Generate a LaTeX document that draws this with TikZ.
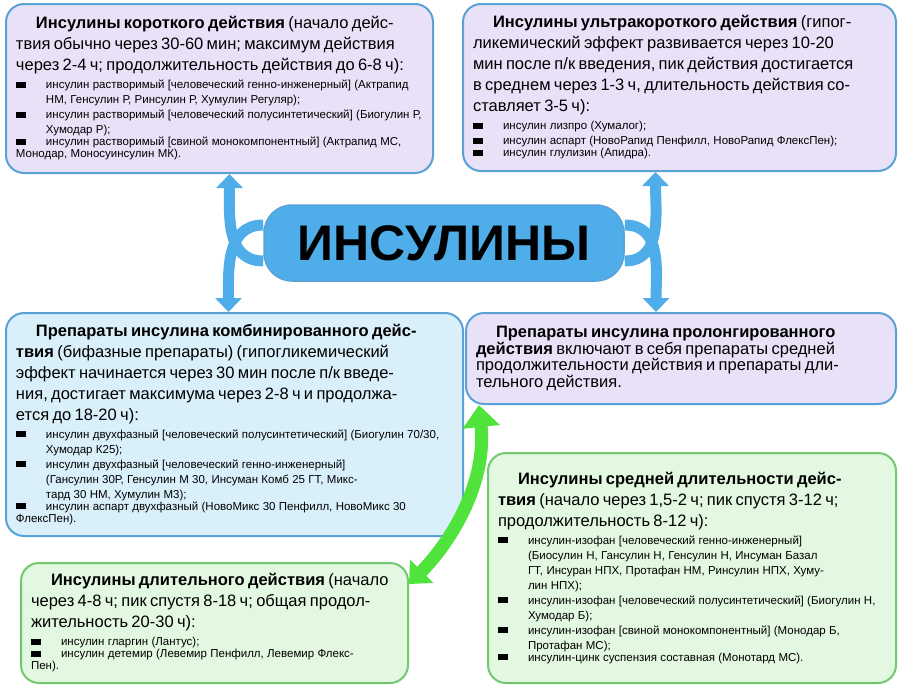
\documentclass[tikz,border=0pt]{standalone}
\usepackage{fontspec}
\setmainfont{Liberation Sans}
\usetikzlibrary{arrows.meta,calc}
\definecolor{bordblue}{HTML}{5AA2D6}
\definecolor{lavfill}{HTML}{E9E1F8}
\definecolor{bluefill}{HTML}{D9F0FB}
\definecolor{greenfill}{HTML}{E2F8E0}
\definecolor{bordgreen}{HTML}{72C86E}
\definecolor{insblue}{HTML}{4FAEE9}
\definecolor{arrgreen}{HTML}{4FE33C}
\newcommand\bul{\raisebox{1pt}{\rule{10pt}{6pt}}}
\newcommand\itm[1]{\par\hangindent=30pt\hangafter=1\noindent\makebox[30pt][l]{\bul}#1}
\newcommand\bigtxt{\fontsize{16.5}{21}\selectfont}
\newcommand\smltxt{\par\vspace{3pt}\fontsize{11.5}{15}\selectfont}
\tikzset{
	groupbox/.style={
		draw=bordblue,
		line width=2pt,
		rounded corners=18pt,
		anchor=north west,
		inner sep=10pt,
		fill=lavfill
	},
	greenbox/.style={
		groupbox,
		draw=bordgreen,
		fill=greenfill
	},
	bluelink/.style={
		draw=insblue,
		line width=11pt,
		-{Triangle[length=14pt,width=26pt]}
	},
	greenlink/.style={
		draw=arrgreen,
		line width=13pt,
		{Triangle[length=22pt,width=36pt]}-{Triangle[length=18pt,width=32pt]}
	}
}
\begin{document}
\begin{tikzpicture}[x=1pt,y=-1pt]
\useasboundingbox (0,0) rectangle (900,688);
% boxes
\node [groupbox, text width=407pt, minimum height=169pt] (short) at (5,3) {\bigtxt
\hspace*{20pt}\textbf{Инсулины короткого действия} (начало дейс-\linebreak
твия обычно через 30-60 мин; максимум действия\linebreak
через 2-4 ч; продолжительность действия до 6-8 ч):
\smltxt
\itm{инсулин растворимый [человеческий генно-инженерный] (Актрапид НМ, Генсулин Р, Ринсулин Р, Хумулин Регуляр);}
\itm{инсулин растворимый [человеческий полусинтетический] (Биогулин Р, Хумодар Р);}
\itm{инсулин растворимый [свиной монокомпонентный] (Актрапид МС, Монодар, Моносуинсулин МК).}};
\node [groupbox, text width=413pt, minimum height=167pt] (ultra) at (462,3) {\bigtxt
\hspace*{20pt}\textbf{Инсулины ультракороткого действия} (гипог-\linebreak
ликемический эффект развивается через 10-20\linebreak
мин после п/к введения, пик действия достигается\linebreak
в среднем через 1-3 ч, длительность действия со-\linebreak
ставляет 3-5 ч):
\smltxt
\itm{инсулин лизпро (Хумалог);}
\itm{инсулин аспарт (НовоРапид Пенфилл, НовоРапид ФлексПен);}
\itm{инсулин глулизин (Апидра).}};
\node [groupbox, fill=bluefill, text width=437pt, minimum height=223pt] (comb) at (5,312) {\bigtxt
\hspace*{20pt}\textbf{Препараты инсулина комбинированного дейс-}\linebreak
\textbf{твия} (бифазные препараты) (гипогликемический\linebreak
эффект начинается через 30 мин после п/к введе-\linebreak
ния, достигает максимума через 2-8 ч и продолжа-\linebreak
ется до 18-20 ч):
\smltxt
\itm{инсулин двухфазный [человеческий полусинтетический] (Биогулин 70/30, Хумодар К25);}
\itm{инсулин двухфазный [человеческий генно-инженерный] (Гансулин 30Р, Генсулин М 30, Инсуман Комб 25 ГТ, Микс-\linebreak тард 30 НМ, Хумулин М3);}
\itm{инсулин аспарт двухфазный (НовоМикс 30 Пенфилл, НовоМикс 30 ФлексПен).}};
\node [groupbox, text width=410pt, minimum height=91pt] (prol) at (465,312) {\bigtxt
\hspace*{20pt}\textbf{Препараты инсулина пролонгированного}\newline
\textbf{действия} включают в себя препараты средней\newline
продолжительности действия и препараты дли-\newline
тельного действия.};
\node [greenbox, text width=388pt, minimum height=230pt] (med) at (487,452) {\bigtxt
\hspace*{20pt}\textbf{Инсулины средней длительности дейс-}\linebreak
\textbf{твия} (начало через 1,5-2 ч; пик спустя 3-12 ч;\linebreak
продолжительность 8-12 ч):
\smltxt
\itm{инсулин-изофан [человеческий генно-инженерный] (Биосулин Н, Гансулин Н, Генсулин Н, Инсуман Базал ГТ, Инсуран НПХ, Протафан НМ, Ринсулин НПХ, Хуму-\linebreak лин НПХ);}
\itm{инсулин-изофан [человеческий полусинтетический] (Биогулин Н, Хумодар Б);}
\itm{инсулин-изофан [свиной монокомпонентный] (Монодар Б, Протафан МС);}
\itm{инсулин-цинк суспензия составная (Монотард МС).}};
\node [greenbox, text width=367pt, minimum height=120pt] (long) at (20,562) {\bigtxt
\hspace*{20pt}\textbf{Инсулины длительного действия} (начало\linebreak
через 4-8 ч; пик спустя 8-18 ч; общая продол-\linebreak
жительность 20-30 ч):
\smltxt
\itm{инсулин гларгин (Лантус);}
\itm{инсулин детемир (Левемир Пенфилл, Левемир Флекс-\linebreak Пен).}};
% centre
\node [fill=insblue, draw=bordblue, line width=1.5pt, rounded corners=28pt, minimum width=360pt, minimum height=76pt, font=\fontsize{50}{50}\selectfont\bfseries] (ins) at (444,243) {ИНСУЛИНЫ};
% links
\draw [bluelink] ([yshift=-18pt]ins.west) .. controls +(-38,0) and +(0,40) .. ([xshift=10pt]short.south);
\draw [bluelink] ([yshift=18pt]ins.west) .. controls +(-38,0) and +(0,-40) .. ([xshift=-6pt]comb.north);
\draw [bluelink] ([yshift=-18pt]ins.east) .. controls +(38,0) and +(0,40) .. ([xshift=-24pt]ultra.south);
\draw [bluelink] ([yshift=18pt]ins.east) .. controls +(38,0) and +(0,-40) .. ([xshift=-25pt]prol.north);
\draw [greenlink] ([xshift=14pt]prol.south west) .. controls +(8,80) and +(40,-40) .. ([yshift=-22pt]long.north east);
\end{tikzpicture}
\end{document}
